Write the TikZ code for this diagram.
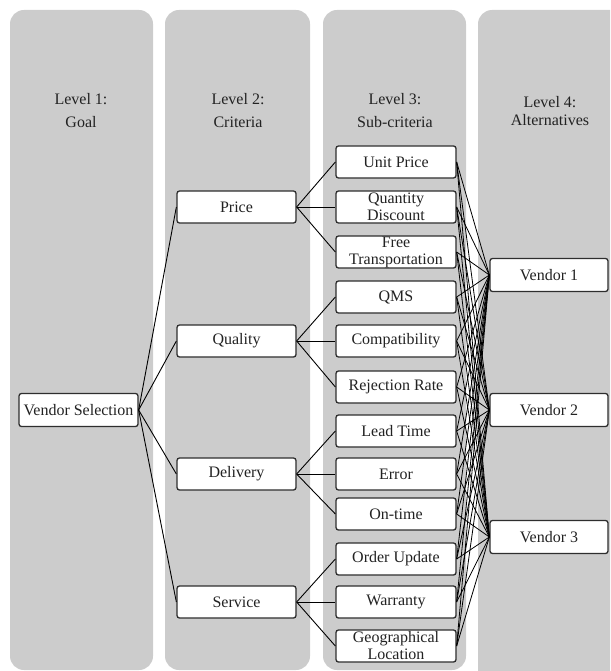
\documentclass[tikz,border=0pt]{standalone}
\usepackage{fontspec}
\setmainfont{Liberation Serif}
\begin{document}
\begin{tikzpicture}[x=1pt,y=-1pt,
  panel/.style={fill=panelgray,draw=none,rounded corners=14pt},
  box/.style={draw=boxline,fill=white,rounded corners=2.5pt,line width=1.3pt,
    minimum width=120pt,minimum height=32pt,inner sep=0pt,align=center,
    text=txt,font=\fontsize{16}{17}\selectfont},
  head/.style={align=center,text=txt,font=\fontsize{16}{23}\selectfont},
  link/.style={draw=black,line width=0.9pt}]
\definecolor{panelgray}{HTML}{CCCCCC}
\definecolor{boxline}{HTML}{2E2E2E}
\definecolor{txt}{HTML}{222222}
\useasboundingbox (0,0) rectangle (610,671);
\clip (0,0) rectangle (610,671);
% panels
\fill[panel] (10,10) rectangle (153,670);
\fill[panel] (165,10) rectangle (310,670);
\fill[panel] (323,10) rectangle (466,670);
\fill[panel] (478,10) rectangle (640,690);
% headers
\node[head] (h1) at (81,111) {Level 1:\\Goal};
\node[head] (h2) at (238,111) {Level 2:\\Criteria};
\node[head] (h3) at (395,111) {Level 3:\\Sub-criteria};
\node[head,font=\fontsize{16}{18}\selectfont] (h4) at (550,111) {Level 4:\\Alternatives};
% level 1
\node[box,minimum width=119pt,minimum height=33pt] (vs) at (78.5,410) {Vendor Selection};
% level 2
\node[box,minimum width=119pt] (price) at (236.5,207) {Price};
\node[box,minimum width=119pt] (quality) at (236.5,341) {Quality};
\node[box,minimum width=119pt] (delivery) at (236.5,474) {Delivery};
\node[box,minimum width=119pt] (service) at (236.5,602) {Service};
% level 3
\node[box] (s1) at (396,162) {Unit Price};
\node[box] (s2) at (396,207) {Quantity\\Discount};
\node[box] (s3) at (396,252) {Free\\Transportation};
\node[box] (s4) at (396,297) {QMS};
\node[box] (s5) at (396,341) {Compatibility};
\node[box] (s6) at (396,387) {Rejection Rate};
\node[box] (s7) at (396,431) {Lead Time};
\node[box] (s8) at (396,474) {Error};
\node[box] (s9) at (396,514) {On-time};
\node[box] (s10) at (396,559) {Order Update};
\node[box] (s11) at (396,602) {Warranty};
\node[box] (s12) at (396,646) {Geographical\\Location};
% level 4
\node[box,minimum width=118pt,minimum height=33pt] (v1) at (549,275) {Vendor 1};
\node[box,minimum width=118pt,minimum height=33pt] (v2) at (549,410) {Vendor 2};
\node[box,minimum width=118pt,minimum height=33pt] (v3) at (549,537) {Vendor 3};
% connectors
\foreach \c in {price,quality,delivery,service}
  \draw[link] (vs.east) -- (\c.west);
\foreach \s in {s1,s2,s3} \draw[link] (price.east) -- (\s.west);
\foreach \s in {s4,s5,s6} \draw[link] (quality.east) -- (\s.west);
\foreach \s in {s7,s8,s9} \draw[link] (delivery.east) -- (\s.west);
\foreach \s in {s10,s11,s12} \draw[link] (service.east) -- (\s.west);
\foreach \s in {s1,s2,s3,s4,s5,s6,s7,s8,s9,s10,s11,s12}
  \foreach \v in {v1,v2,v3}
    \draw[link,line width=0.8pt] (\s.east) -- (\v.west);
\end{tikzpicture}
\end{document}
